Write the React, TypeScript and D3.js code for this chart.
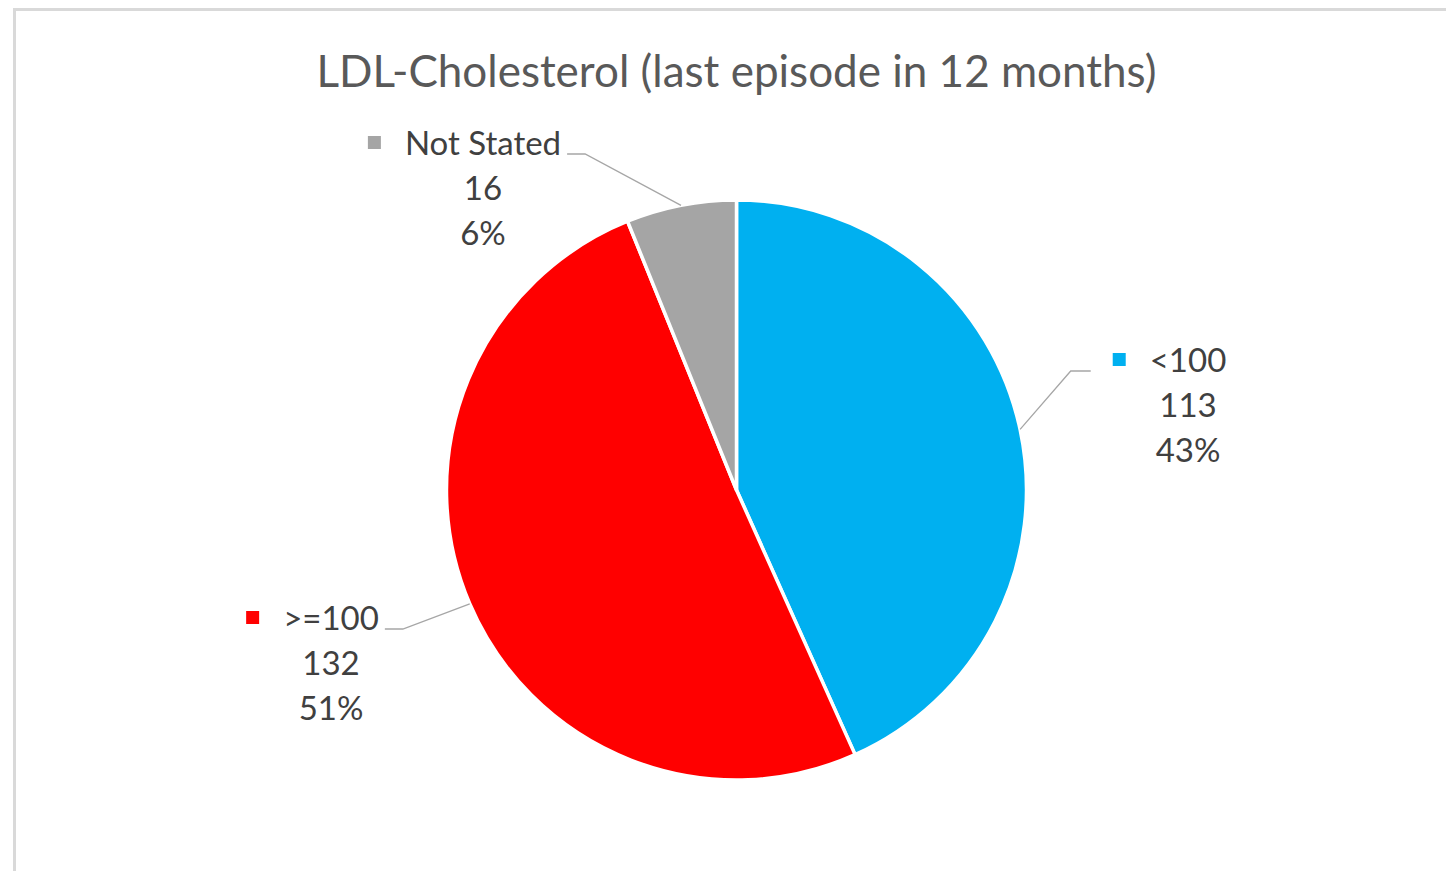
import { useEffect, useRef } from "react";
import * as d3 from "d3";

// Data
const categories = ["<100", ">=100", "Not Stated"];
const counts = [113, 132, 16];
const percentLabels = ["43%", "51%", "6%"];
const colors = ["#00B0F0", "#FF0000", "#A5A5A5"];
const title = "LDL-Cholesterol (last episode in 12 months)";

// Where Excel put each data label (text centre x, first baseline y)
const labelSpots = [
  { cx: 1188, y: 372, side: "right" },
  { cx: 331, y: 630, side: "left" },
  { cx: 483, y: 155, side: "left" },
];

export default function App() {
  const ref = useRef<SVGSVGElement | null>(null);
  const width = 1446;
  const height = 871;
  const cx = 736.5;
  const cy = 490;
  const radius = 290;

  useEffect(() => {
    document.body.style.margin = "0";
    const svg = d3.select(ref.current);
    svg.selectAll("*").remove();

    // chart area border (runs off the right and bottom edges)
    svg.append("rect")
      .attr("x", 14.5)
      .attr("y", 9.5)
      .attr("width", width + 20)
      .attr("height", height + 20)
      .attr("fill", "#fff")
      .attr("stroke", "#D9D9D9")
      .attr("stroke-width", 3);

    svg.append("text")
      .attr("x", cx)
      .attr("y", 87)
      .attr("text-anchor", "middle")
      .attr("font-family", "Lato, 'Open Sans', sans-serif")
      .attr("font-size", 44)
      .attr("fill", "#595959")
      .text(title);

    const pie = d3.pie<number>().sort(null).value(d => d);
    const arcs = pie(counts);
    const arc = d3.arc<d3.PieArcDatum<number>>().innerRadius(0).outerRadius(radius);

    const g = svg.append("g").attr("transform", `translate(${cx},${cy})`);
    g.selectAll("path")
      .data(arcs)
      .join("path")
      .attr("d", arc)
      .attr("fill", (d, i) => colors[i])
      .attr("stroke", "#fff")
      .attr("stroke-width", 3.5)
      .attr("stroke-linejoin", "round");

    const lineGap = 45;
    arcs.forEach((a, i) => {
      const spot = labelSpots[i];
      const lg = svg.append("g");
      const lines = [categories[i], String(counts[i]), percentLabels[i]];
      const texts = lines.map((t, k) =>
        lg.append("text")
          .attr("x", spot.cx)
          .attr("y", spot.y + k * lineGap)
          .attr("text-anchor", "middle")
          .attr("font-family", "Lato, 'Open Sans', sans-serif")
          .attr("font-size", 33)
          .attr("fill", "#404040")
          .text(t)
      );
      const first = (texts[0].node() as SVGTextElement).getBBox();
      const textLeft = first.x;
      const textRight = first.x + first.width;

      // legend key
      lg.append("rect")
        .attr("x", textLeft - 37)
        .attr("y", spot.y - 19)
        .attr("width", 13)
        .attr("height", 13)
        .attr("fill", colors[i]);

      // leader line from label to the slice edge
      const mid = (a.startAngle + a.endAngle) / 2;
      const px = cx + radius * Math.sin(mid);
      const py = cy - radius * Math.cos(mid);
      const ly = spot.y - 1;
      let pts: [number, number][];
      if (spot.side === "right") {
        const sx = textLeft - 37 - 22;
        pts = [[sx, ly], [sx - 20, ly], [px, py]];
      } else {
        const sx = textRight + 6;
        pts = [[sx, ly], [sx + 18, ly], [px, py]];
      }
      svg.append("path")
        .attr("d", d3.line()(pts))
        .attr("fill", "none")
        .attr("stroke", "#A6A6A6")
        .attr("stroke-width", 1.3);
    });
  }, []);

  return <svg ref={ref} width={width} height={height} style={{ display: "block" }} />;
}
